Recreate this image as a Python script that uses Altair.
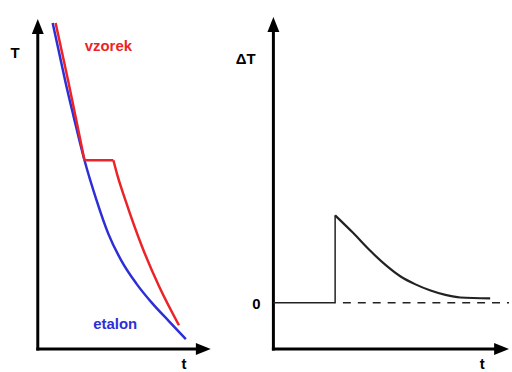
import altair as alt
import pandas as pd

FONT = "Liberation Sans"
RED = "#ec2327"
BLUE = "#2e2ed6"

# ---- left panel: cooling curves T(t), arbitrary units ----
etalon_t = [0.86, 1.21, 1.61, 2.07, 2.70, 3.39, 4.08, 4.83, 5.69, 6.61, 7.59, 8.56]
etalon_T = [9.88, 9.04, 8.07, 7.05, 5.72, 4.52, 3.49, 2.68, 1.99, 1.39, 0.84, 0.30]

# sample curve: cooling, plateau (phase transition), cooling again
vzorek_hi_t = [1.03, 1.38, 1.78, 2.18, 2.70]
vzorek_hi_T = [9.88, 9.04, 8.07, 7.05, 5.72]
vzorek_plateau_t = [2.70, 4.37]
vzorek_plateau_T = [5.72, 5.72]
vzorek_lo_t = [4.37, 4.60, 5.06, 6.03, 7.01, 8.16]
vzorek_lo_T = [5.72, 5.27, 4.52, 3.10, 1.90, 0.72]

left_text = ["T", "vzorek", "etalon", "t"]
left_text_t = [-1.32, 4.08, 4.48, 8.45]
left_text_T = [8.98, 9.19, 0.75, -0.45]
left_text_color = ["black", RED, BLUE, "black"]

# ---- right panel: temperature difference dT(t) ----
step_t = [0.0, 2.62, 2.62]
step_dT = [0.0, 0.0, 1.0]
decay_t = [2.62, 3.38, 4.09, 4.77, 5.40, 6.03, 6.67, 7.30, 7.93, 9.20]
decay_dT = [1.0, 0.80, 0.60, 0.43, 0.30, 0.21, 0.14, 0.09, 0.06, 0.05]
zero_dash_t = [2.95, 10.0]

right_text = ["\u0394T", "0", "t"]
right_text_t = [-1.18, -0.72, 8.86]
right_text_dT = [2.79, -0.02, -0.70]

# scales: data ranges placed inside each panel
LX = alt.Scale(domain=[0, 10], range=[38, 212])
LY = alt.Scale(domain=[0, 10], range=[350, 18])
RX = alt.Scale(domain=[0, 10], range=[35, 272])
RY = alt.Scale(domain=[-0.53, 3.27], range=[350, 16])

ARROW_UP = "M0,0L0.8,2L-0.8,2Z"
ARROW_RIGHT = "M0,0L-2,-0.8L-2,0.8Z"


def line_layer(ts, vs, xs, ys, color, width, interp="monotone", dash=None):
    df = pd.DataFrame({"x": ts, "y": vs, "i": list(range(len(ts)))})
    kw = dict(color=color, strokeWidth=width, interpolate=interp)
    if dash:
        kw["strokeDash"] = dash
    return alt.Chart(df).mark_line(**kw).encode(
        x=alt.X("x:Q", scale=xs, axis=None),
        y=alt.Y("y:Q", scale=ys, axis=None),
        order="i:Q",
    )


def axes_layers(xs, ys, x0, y0, x_end, y_end, x_tip, y_tip):
    vert = alt.Chart(pd.DataFrame({"x": [x0], "y": [y0], "y2": [y_end]})).mark_rule(
        color="black", strokeWidth=3, strokeCap="square"
    ).encode(
        x=alt.X("x:Q", scale=xs, axis=None),
        y=alt.Y("y:Q", scale=ys, axis=None),
        y2="y2:Q",
    )
    horiz = alt.Chart(pd.DataFrame({"x": [x0], "x2": [x_end], "y": [y0]})).mark_rule(
        color="black", strokeWidth=3, strokeCap="square"
    ).encode(
        x=alt.X("x:Q", scale=xs, axis=None),
        x2="x2:Q",
        y=alt.Y("y:Q", scale=ys, axis=None),
    )
    up = alt.Chart(pd.DataFrame({"x": [x0], "y": [y_tip]})).mark_point(
        shape=ARROW_UP, size=225, filled=True, color="black", opacity=1, strokeWidth=0
    ).encode(x=alt.X("x:Q", scale=xs, axis=None), y=alt.Y("y:Q", scale=ys, axis=None))
    right = alt.Chart(pd.DataFrame({"x": [x_tip], "y": [y0]})).mark_point(
        shape=ARROW_RIGHT, size=225, filled=True, color="black", opacity=1, strokeWidth=0
    ).encode(x=alt.X("x:Q", scale=xs, axis=None), y=alt.Y("y:Q", scale=ys, axis=None))
    return [vert, horiz, up, right]


def text_layer(labels, ts, vs, colors, xs, ys):
    df = pd.DataFrame({"label": labels, "x": ts, "y": vs, "c": colors})
    return alt.Chart(df).mark_text(
        font=FONT, fontSize=15, fontWeight="bold", align="center", baseline="middle"
    ).encode(
        x=alt.X("x:Q", scale=xs, axis=None),
        y=alt.Y("y:Q", scale=ys, axis=None),
        text="label:N",
        color=alt.Color("c:N", scale=None),
    )


left = alt.layer(
    *axes_layers(LX, LY, 0, 0, 9.5, 9.8, 10, 10),
    line_layer(etalon_t, etalon_T, LX, LY, BLUE, 2.5),
    line_layer(vzorek_hi_t, vzorek_hi_T, LX, LY, RED, 2.5),
    line_layer(vzorek_plateau_t, vzorek_plateau_T, LX, LY, RED, 2.5, interp="linear"),
    line_layer(vzorek_lo_t, vzorek_lo_T, LX, LY, RED, 2.5),
    text_layer(left_text, left_text_t, left_text_T, left_text_color, LX, LY),
).properties(width=240, height=372)

right = alt.layer(
    *axes_layers(RX, RY, 0, -0.53, 9.7, 3.2, 10, 3.27),
    line_layer(zero_dash_t, [0, 0], RX, RY, "#222222", 1.5, interp="linear", dash=[8, 7]),
    line_layer(step_t, step_dT, RX, RY, "#222222", 1.5, interp="linear"),
    line_layer(decay_t, decay_dT, RX, RY, "#222222", 2.2),
    text_layer(right_text, right_text_t, right_text_dT, ["black"] * 3, RX, RY),
).properties(width=272, height=372)

chart = (
    alt.hconcat(left, right, spacing=0, bounds="flush")
    .properties(padding=0, background="white")
    .configure_view(stroke=None)
)

chart.save("out.html", embed_options={"renderer": "svg", "actions": False})
